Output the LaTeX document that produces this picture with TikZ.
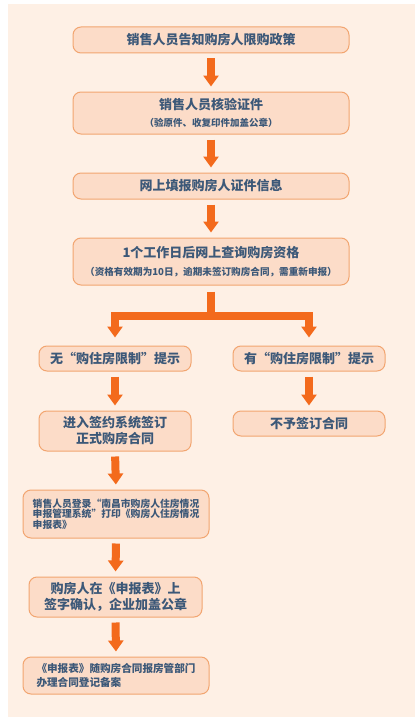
\documentclass[tikz,border=0pt]{standalone}
\usepackage{fontspec}
\setmainfont{Noto Sans CJK SC}
\usetikzlibrary{arrows.meta}
\definecolor{panel}{HTML}{FEF0E5}
\definecolor{boxfill}{HTML}{FCDCC8}
\definecolor{boxline}{HTML}{F2A570}
\definecolor{arrowc}{HTML}{F36A1C}
\definecolor{txt}{HTML}{3C5878}
\begin{document}
\begin{tikzpicture}[x=1pt,y=-1pt,
  box/.style={draw=boxline, line width=1pt, fill=boxfill, rounded corners=8pt,
    text=txt, align=center, inner sep=0pt},
  big/.style={font=\fontsize{13}{16}\selectfont\bfseries},
  flow/.style={draw=arrowc, line width=8pt, shorten <=5pt, shorten >=5pt,
    -{Triangle[width=15pt,length=11pt]}},
  bar/.style={draw=arrowc, line width=8pt, line join=miter}
]
\useasboundingbox (0,0) rectangle (418,717);
\fill[white] (0,0) rectangle (418,717);
\fill[panel] (8,4) rectangle (415,717);

\node[box, big, minimum width=276pt, minimum height=26pt] (b1) at (211,40)
  {销售人员告知购房人限购政策};
\node[box, big, minimum width=276pt, minimum height=42pt] (b2) at (211,113)
  {销售人员核验证件\\[1pt]
   {\fontsize{9.5}{11}\selectfont （验原件、收复印件加盖公章）}};
\node[box, big, minimum width=276pt, minimum height=26pt] (b3) at (211,186)
  {网上填报购房人证件信息};
\node[box, big, minimum width=276pt, minimum height=47pt] (b4) at (211,261.5)
  {1个工作日后网上查询购房资格\\[2pt]
   {\fontsize{9.6}{11}\selectfont （资格有效期为10日，逾期未签订购房合同，需重新申报）}};

\node[box, big, minimum width=152pt, minimum height=25pt] (b5l) at (115,358.5)
  {无“购住房限制”提示};
\node[box, big, minimum width=152pt, minimum height=25pt] (b5r) at (309,358.5)
  {有“购住房限制”提示};
\node[box, big, minimum width=152pt, minimum height=40pt] (b6l) at (115,431)
  {进入签约系统签订\\正式购房合同};
\node[box, big, minimum width=152pt, minimum height=25pt] (b6r) at (309,423.5)
  {不予签订合同};

\node[box, font=\fontsize{9.8}{10.6}\selectfont\bfseries, minimum width=186pt,
  minimum height=48pt, align=left] (b7) at (116,514)
  {销售人员登录“南昌市购房人住房情况\\
   申报管理系统”打印《购房人住房情况\\申报表》};
\node[box, big, minimum width=173pt, minimum height=40pt] (b8) at (115.5,597)
  {购房人在《申报表》上\\签字确认，企业加盖公章};
\node[box, font=\fontsize{10.6}{13.3}\selectfont\bfseries, minimum width=186pt,
  minimum height=37pt, align=left] (b9) at (116,675.5)
  {《申报表》随购房合同报房管部门\\办理合同登记备案};

\draw[flow] (b1.south) -- (b2.north);
\draw[flow] (b2.south) -- (b3.north);
\draw[flow] (b3.south) -- (b4.north);

\coordinate (br) at (211,316);
\draw[bar, shorten <=6pt] (b4.south) -- (br);
\draw[bar, shorten >=8pt, -{Triangle[width=15pt,length=11pt]}] (br) -| (b5l.north);
\draw[bar, shorten >=8pt, -{Triangle[width=15pt,length=11pt]}] (br) -| (b5r.north);

\draw[flow] (b5l.south) -- (b6l.north);
\draw[flow] (b5r.south) -- (b6r.north);
\draw[flow] (b6l.south) -- (b7.north);
\draw[flow] (b7.south) -- (b8.north);
\draw[flow] (b8.south) -- (b9.north);
\end{tikzpicture}
\end{document}
